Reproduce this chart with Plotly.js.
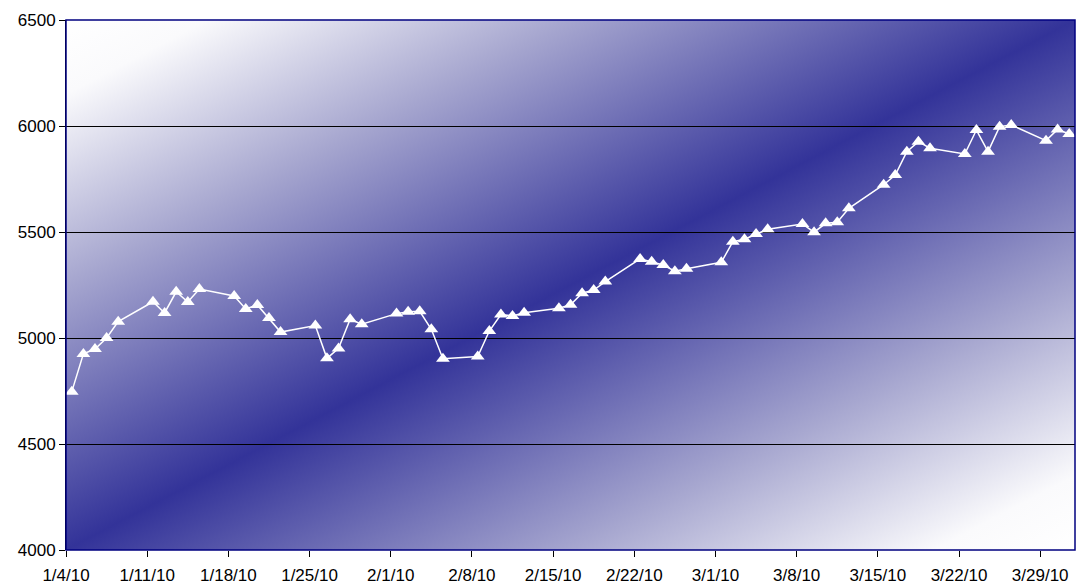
<!DOCTYPE html>
<html>
<head>
<meta charset="utf-8">
<script src="https://cdn.plot.ly/plotly-3.0.1.min.js"></script>
<style>html,body{margin:0;padding:0;background:#fff;}#chart{width:1076px;height:584px;}</style>
</head>
<body>
<div id="chart"></div>
<script>
const dates = [
  '2010-01-04','2010-01-05','2010-01-06','2010-01-07','2010-01-08',
  '2010-01-11','2010-01-12','2010-01-13','2010-01-14','2010-01-15',
  '2010-01-18','2010-01-19','2010-01-20','2010-01-21','2010-01-22',
  '2010-01-25','2010-01-26','2010-01-27','2010-01-28','2010-01-29',
  '2010-02-01','2010-02-02','2010-02-03','2010-02-04','2010-02-05',
  '2010-02-08','2010-02-09','2010-02-10','2010-02-11','2010-02-12',
  '2010-02-15','2010-02-16','2010-02-17','2010-02-18','2010-02-19',
  '2010-02-22','2010-02-23','2010-02-24','2010-02-25','2010-02-26',
  '2010-03-01','2010-03-02','2010-03-03','2010-03-04','2010-03-05',
  '2010-03-08','2010-03-09','2010-03-10','2010-03-11','2010-03-12',
  '2010-03-15','2010-03-16','2010-03-17','2010-03-18','2010-03-19',
  '2010-03-22','2010-03-23','2010-03-24','2010-03-25','2010-03-26',
  '2010-03-29','2010-03-30','2010-03-31'
];
const values = [
  4747,4925,4948,5000,5077,
  5171,5118,5218,5170,5231,
  5198,5137,5156,5094,5028,
  5059,4904,4951,5088,5065,
  5115,5124,5126,5041,4902,
  4913,5033,5111,5104,5119,
  5140,5157,5211,5226,5266,
  5373,5360,5344,5315,5327,
  5357,5454,5466,5491,5513,
  5538,5499,5541,5546,5612,
  5723,5769,5879,5926,5895,
  5868,5981,5879,5997,6005,
  5931,5984,5962
];
const tickDates = ['2010-01-04','2010-01-11','2010-01-18','2010-01-25','2010-02-01','2010-02-08','2010-02-15','2010-02-22','2010-03-01','2010-03-08','2010-03-15','2010-03-22','2010-03-29'];
const tickLabels = ['1/4/10','1/11/10','1/18/10','1/25/10','2/1/10','2/8/10','2/15/10','2/22/10','3/1/10','3/8/10','3/15/10','3/22/10','3/29/10'];
const yTicks = [4000,4500,5000,5500,6000,6500];

const gradSvg = '<svg xmlns="http://www.w3.org/2000/svg" width="1000" height="1000" viewBox="0 0 1000 1000" preserveAspectRatio="none">' +
  '<defs><linearGradient id="g" x1="0" y1="0" x2="1" y2="1">' +
  '<stop offset="0" stop-color="#ffffff"/><stop offset="0.07" stop-color="#fafafc"/>' +
  '<stop offset="0.25" stop-color="#a6a6cf"/><stop offset="0.5" stop-color="#333399"/>' +
  '<stop offset="0.75" stop-color="#a6a6cf"/><stop offset="0.93" stop-color="#fafafc"/>' +
  '<stop offset="1" stop-color="#ffffff"/>' +
  '</linearGradient></defs><rect width="1000" height="1000" fill="url(#g)"/></svg>';
const gradUri = 'data:image/svg+xml;base64,' + btoa(gradSvg);

const trace = {
  x: dates, y: values, type: 'scatter', mode: 'lines+markers',
  xperiod: 86400000, xperiodalignment: 'middle',
  line: {color: '#ffffff', width: 1.5},
  marker: {symbol: 'triangle-up', size: 12, color: '#ffffff', line: {width: 0}},
  hoverinfo: 'x+y'
};

const layout = {
  width: 1076, height: 584,
  margin: {l: 66, r: 1, t: 20, b: 34, pad: 0},
  paper_bgcolor: '#ffffff', plot_bgcolor: 'rgba(0,0,0,0)',
  showlegend: false,
  font: {family: 'Liberation Sans, Arial, sans-serif', size: 17, color: '#000'},
  xaxis: {
    type: 'date', range: ['2010-01-04', '2010-04-01'],
    tickmode: 'array', tickvals: tickDates, ticktext: tickLabels,
    ticks: 'outside', ticklen: 6, tickcolor: '#000', tickwidth: 1,
    showgrid: false, zeroline: false, showline: false,
    ticklabelstandoff: 4,
    tickfont: {size: 17, color: '#000'}
  },
  yaxis: {
    range: [4000, 6500], tickmode: 'array', tickvals: yTicks,
    ticks: 'outside', ticklen: 6, tickcolor: '#000', tickwidth: 1,
    showgrid: true, gridcolor: '#000', gridwidth: 1,
    zeroline: false, showline: true, linecolor: '#000', linewidth: 1,
    tickfont: {size: 17, color: '#000'}
  },
  images: [{
    source: gradUri, xref: 'paper', yref: 'paper', x: 0, y: 1,
    sizex: 1, sizey: 1, sizing: 'stretch', xanchor: 'left', yanchor: 'top', layer: 'below'
  }],
  shapes: [{
    type: 'rect', xref: 'paper', yref: 'paper', x0: 0, y0: 0, x1: 1, y1: 1,
    line: {color: '#000080', width: 1.5}, fillcolor: 'rgba(0,0,0,0)', layer: 'above'
  }]
};

Plotly.newPlot('chart', [trace], layout, {displayModeBar: false, staticPlot: true});
</script>
</body>
</html>
